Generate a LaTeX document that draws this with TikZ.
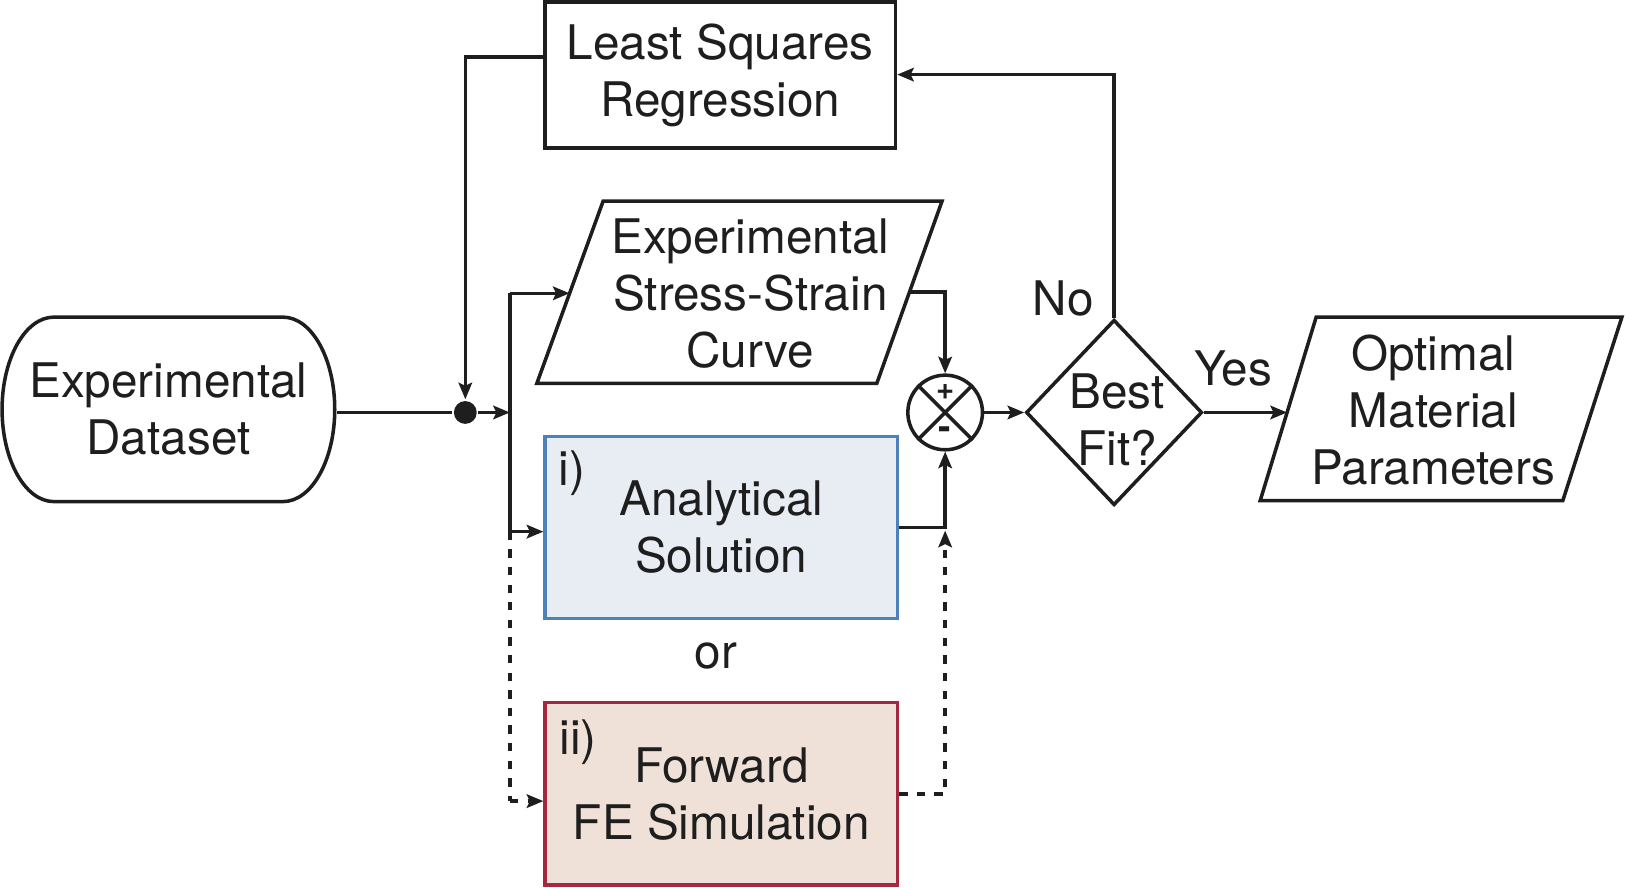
\documentclass[tikz,border=0pt]{standalone}
\usepackage{fontspec}
\setmainfont{TeX Gyre Heros}
\usetikzlibrary{arrows.meta,shapes.geometric}
\definecolor{anafill}{RGB}{232,237,243}
\definecolor{anadraw}{RGB}{78,128,186}
\definecolor{fefill}{RGB}{240,225,216}
\definecolor{fedraw}{RGB}{165,40,65}
\definecolor{ink}{RGB}{30,30,30}
\begin{document}
\begin{tikzpicture}[x=0.5pt,y=-0.5pt, line width=1.7pt, draw=ink,
  lbl/.style={font=\fontsize{23}{27.5}\selectfont, align=center, inner sep=0pt, text=ink},
  smalllbl/.style={font=\bfseries\fontsize{15}{15}\selectfont, inner sep=0pt, text=ink},
  boxshape/.style={draw=ink, rectangle, inner sep=0pt, font=\fontsize{23}{27.5}\selectfont, align=center, text=ink},
  conn/.style={-{Stealth[length=8pt,width=6.5pt,inset=1.5pt]}},
  dashline/.style={dash pattern=on 4pt off 4.5pt}]
\useasboundingbox (0,0) rectangle (1568,856);

% Terminal shape (Experimental Dataset)
\draw (52,306) -- (273,306) arc[start angle=-90, end angle=90, x radius=50, y radius=89]
      -- (52,484) arc[start angle=90, end angle=270, x radius=50, y radius=89] -- cycle;
\node[boxshape, draw=none, minimum width=160.5pt, minimum height=89pt] (ds) at (162.5,395) {Experimental\\Dataset};

% Boxes
\node[boxshape, minimum width=169pt, minimum height=70.5pt] (lsr) at (695,72.5) {Least Squares\\Regression};
\node[boxshape, draw=anadraw, fill=anafill, minimum width=170pt, minimum height=88pt] (ana) at (696,509) {Analytical\\Solution};
\node[boxshape, draw=fedraw, fill=fefill, minimum width=170pt, minimum height=88pt] (fe) at (696,766) {Forward\\FE Simulation};
\node[lbl, anchor=center] (ilbl) at (552,457) {i)};
\node[lbl, anchor=center] (iilbl) at (558,716) {ii)};
\node[lbl] (or) at (691,633) {or};

% Parallelograms
\draw[line join=miter] (582,194) -- (909,194) -- (846,370) -- (518,370) -- cycle;
\node[lbl] (ssc) at (724,283) {Experimental\\Stress-Strain\\Curve};
\coordinate (p1l) at (549.6,283);
\coordinate (p1r) at (877.5,282);

\draw[line join=miter] (1270,306) -- (1565,306) -- (1508,483) -- (1216,483) -- cycle;
\node[lbl] (omp) at (1383,396) {Optimal\\Material\\Parameters};
\coordinate (p2l) at (1241.9,398);

% Summing junction
\node[circle, draw=ink, minimum size=36pt, inner sep=0pt] (sum) at (912,398) {};
\draw (sum.north west) -- (sum.south east);
\draw (sum.north east) -- (sum.south west);
\node[smalllbl] (plus) at (912,378) {+};
\node[smalllbl, font=\bfseries\fontsize{18}{18}\selectfont] (minus) at (912,418) {-};

% Decision
\node[diamond, draw=ink, minimum width=85pt, minimum height=89.5pt, inner sep=0pt, line join=miter] (bf) at (1075,398) {};
\node[lbl] (bft) at (1078,405) {Best\\Fit?};
\node[lbl] (no) at (1026,288) {No};
\node[lbl] (yes) at (1190,356) {Yes};

% Junction
\node[circle, fill=ink, minimum size=11pt, inner sep=0pt] (dot) at (449,398) {};
\coordinate (J) at (492,398);
\coordinate (Jt) at (492,283);
\coordinate (Jb) at (492,513);
\coordinate (Jf) at (492,773);
\coordinate (a1) at (449,55);
\coordinate (a2) at (1075,72);
\coordinate (a4) at (912,512);

% Connectors
\draw (ds.east |- dot) -- (dot);
\draw[conn] (dot) -- (J);
\draw (Jt) -- (Jb);
\draw[conn] (Jt) -- (p1l);
\draw[conn] (Jb) -- (ana.west |- Jb);
\draw[dashline] (Jb) -- (Jf);
\draw[conn, dashline] (Jf) -- (fe.west |- Jf);
\draw[conn] (lsr.west |- a1) -- (a1) -- (dot.north);
\draw[conn] (bf.north) -- (a2) -- (lsr.east |- a2);
\draw[conn] (p1r) -| (sum.north);
\draw[conn] (ana.east) -| (sum.south);
\draw[conn, dashline] (fe.east) -| (a4);
\draw[conn] (sum.east) -- (bf.west);
\draw[conn] (bf.east) -- (p2l);
\end{tikzpicture}
\end{document}
